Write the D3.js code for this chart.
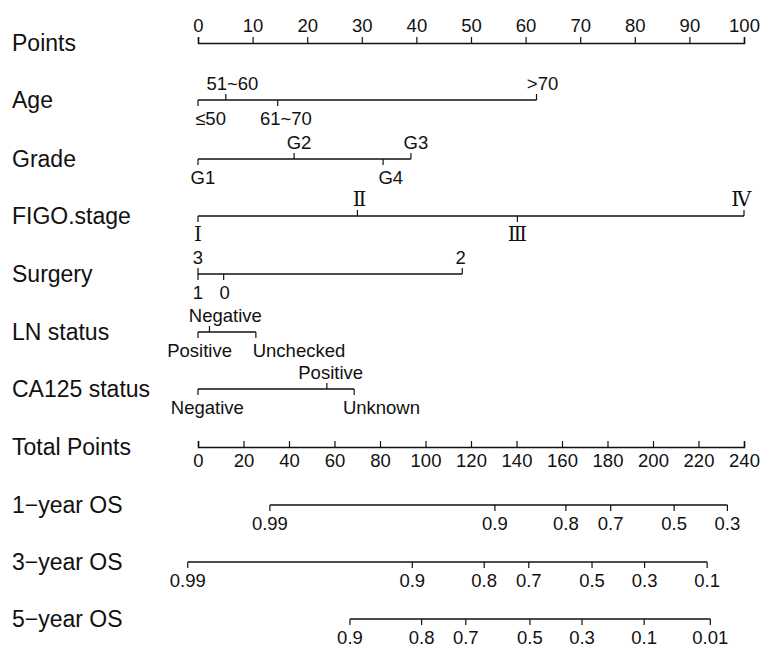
<!DOCTYPE html>
<html>
<head>
<meta charset="utf-8">
<script src="https://cdn.jsdelivr.net/npm/d3@7"></script>
<style>
  body { margin: 0; background: #fff; }
  text { font-family: "Liberation Sans", Arial, sans-serif; fill: #111; }
  text.roman { font-family: "DejaVu Serif", serif; font-size: 20px !important; }
</style>
</head>
<body>
<div id="chart"></div>
<script>
// points per level
const ageLevels = ["≤50", "51~60", "61~70", ">70"];
const agePoints = [0, 5.1, 14.6, 62.0];
const ageLabelAt = [2.3, 6.3, 16.1, 63.1];

const gradeLevels = ["G1", "G2", "G4", "G3"];
const gradePoints = [0, 17.6, 33.9, 39.0];
const gradeLabelAt = [0.9, 18.5, 35.3, 39.9];

const figoLevels = ["Ⅰ", "Ⅱ", "Ⅲ", "Ⅳ"];
const figoPoints = [0, 29.2, 58.5, 100];
const figoLabelAt = [0, 29.6, 58.5, 99.5];

const surgeryLevels = ["1", "3", "0", "2"];
const surgeryPoints = [0, 0, 4.7, 48.4];
const surgeryLabelAt = [0, 0, 4.9, 48.1];

const lnLevels = ["Positive", "Negative", "Unchecked"];
const lnPoints = [0, 2.1, 10.6];
const lnLabelAt = [0.3, 5.0, 18.5];

const caLevels = ["Negative", "Positive", "Unknown"];
const caPoints = [0, 23.6, 28.6];
const caLabelAt = [1.7, 24.3, 33.6];

const pointsTicks = d3.range(0, 101, 10);
const totalTicks = d3.range(0, 241, 20);

const os1Labels = ["0.99", "0.9", "0.8", "0.7", "0.5", "0.3"];
const os1Total = [31.6, 130.5, 161.7, 181.4, 209.3, 232.7];
const os3Labels = ["0.99", "0.9", "0.8", "0.7", "0.5", "0.3", "0.1"];
const os3Total = [-4.5, 94.2, 125.8, 145.4, 173.2, 196.3, 223.8];
const os5Labels = ["0.9", "0.8", "0.7", "0.5", "0.3", "0.1", "0.01"];
const os5Total = [66.8, 98.3, 117.7, 145.9, 168.8, 196.1, 225.2];

const width = 769, height = 648;
const svg = d3.select("#chart").append("svg")
  .attr("width", width).attr("height", height);

const x = d3.scaleLinear().domain([0, 100]).range([198, 744]);
const xt = d3.scaleLinear().domain([0, 240]).range([198, 744]);

const rowY = {
  points: 43, age: 100, grade: 159, figo: 216, surgery: 274,
  ln: 332, ca: 389, total: 447, os1: 505, os3: 562, os5: 619
};

function rowLabel(name, y) {
  svg.append("text").attr("x", 12).attr("y", y + 8)
    .style("font-size", "23px").text(name);
}

// Points axis
rowLabel("Points", rowY.points);
const gp = svg.append("g").attr("transform", `translate(0,${rowY.points})`);
gp.call(d3.axisTop(x).tickValues(d3.range(0, 101, 2)).tickSize(3).tickFormat(""));
gp.call(d3.axisTop(x).tickValues(pointsTicks).tickSize(6).tickPadding(5));

// Total points axis
rowLabel("Total Points", rowY.total);
const gt = svg.append("g").attr("transform", `translate(0,${rowY.total})`);
gt.call(d3.axisBottom(xt).tickValues(d3.range(0, 241, 4)).tickSize(-3).tickFormat(""));
gt.call(d3.axisBottom(xt).tickValues(totalTicks).tickSize(-6).tickPadding(7));

[gp, gt].forEach(g => {
  g.select(".domain").attr("stroke", "#111").attr("stroke-width", 1.5);
  g.selectAll(".tick line").attr("stroke", "#111").attr("stroke-width", 1.2);
  g.selectAll(".tick text").style("font-size", "18.5px")
    .style("font-family", "'Liberation Sans', Arial, sans-serif").attr("fill", "#111");
});

// variable rows: labels alternate below / above in order of position
function varRow(name, y, levels, pts, labelAt, cls) {
  rowLabel(name, y);
  const g = svg.append("g");
  g.append("line")
    .attr("x1", x(d3.min(pts))).attr("x2", x(d3.max(pts)))
    .attr("y1", y).attr("y2", y)
    .attr("stroke", "#111").attr("stroke-width", 1.5);
  const order = d3.range(levels.length).sort((a, b) => pts[a] - pts[b]);
  order.forEach((i, k) => {
    const up = k % 2 === 1;
    g.append("line")
      .attr("x1", x(pts[i])).attr("x2", x(pts[i]))
      .attr("y1", y).attr("y2", up ? y - 6 : y + 6)
      .attr("stroke", "#111").attr("stroke-width", 1.2);
    g.append("text")
      .attr("class", cls || null)
      .attr("x", x(labelAt[i])).attr("y", up ? y - 10 : y + 25)
      .attr("text-anchor", "middle")
      .style("font-size", "18.5px")
      .text(levels[i]);
  });
}

varRow("Age", rowY.age, ageLevels, agePoints, ageLabelAt);
varRow("Grade", rowY.grade, gradeLevels, gradePoints, gradeLabelAt);
varRow("FIGO.stage", rowY.figo, figoLevels, figoPoints, figoLabelAt, "roman");
varRow("Surgery", rowY.surgery, surgeryLevels, surgeryPoints, surgeryLabelAt);
varRow("LN status", rowY.ln, lnLevels, lnPoints, lnLabelAt);
varRow("CA125 status", rowY.ca, caLevels, caPoints, caLabelAt);

// survival probability axes, placed on the total points scale
function osRow(name, y, labels, totals) {
  rowLabel(name, y);
  const g = svg.append("g");
  g.append("line")
    .attr("x1", xt(d3.min(totals))).attr("x2", xt(d3.max(totals)))
    .attr("y1", y).attr("y2", y)
    .attr("stroke", "#111").attr("stroke-width", 1.5);
  totals.forEach((t, i) => {
    g.append("line")
      .attr("x1", xt(t)).attr("x2", xt(t))
      .attr("y1", y).attr("y2", y + 6)
      .attr("stroke", "#111").attr("stroke-width", 1.2);
    g.append("text")
      .attr("x", xt(t)).attr("y", y + 25)
      .attr("text-anchor", "middle")
      .style("font-size", "18.5px")
      .text(labels[i]);
  });
}

osRow("1\u2212year OS", rowY.os1, os1Labels, os1Total);
osRow("3\u2212year OS", rowY.os3, os3Labels, os3Total);
osRow("5\u2212year OS", rowY.os5, os5Labels, os5Total);
</script>
</body>
</html>
